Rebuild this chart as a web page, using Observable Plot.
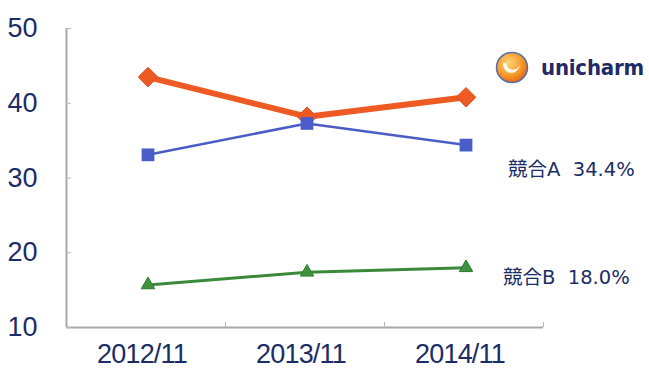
<!DOCTYPE html>
<html><head><meta charset="utf-8">
<script src="https://cdn.jsdelivr.net/npm/d3@7"></script>
<script src="https://cdn.jsdelivr.net/npm/@observablehq/plot@0.6"></script>
<style>
body{margin:0;background:#fff;}
#wrap{position:relative;width:649px;height:371px;overflow:hidden;}
#logo{position:absolute;left:495px;top:51px;display:flex;align-items:center;}
#logo span{font-family:"DejaVu Sans Condensed","DejaVu Sans",sans-serif;font-weight:bold;font-size:22px;color:#1f2b66;margin-left:12px;letter-spacing:-0.2px;}
g[aria-label="x-axis tick label"] text{letter-spacing:-0.8px;}
</style>
</head><body>
<div id="wrap"></div>
<script>
// Data
const periods = ["2012/11", "2013/11", "2014/11"];
const unicharm = [43.5, 38.2, 40.8];
const rivalA = [33.1, 37.3, 34.4];
const rivalB = [15.7, 17.4, 18.0];
const yTicks = [10, 20, 30, 40, 50];
const seriesNames = ["競合A", "競合B"];

const navy = "#1b2d66";
const W = 649, H = 371, mL = 66, mR = 106, mT = 28, mB = 44;
const bw = (W - mL - mR) / periods.length;

const toRows = arr => arr.map((v, i) => ({p: periods[i], v}));
const rowsU = toRows(unicharm), rowsA = toRows(rivalA), rowsB = toRows(rivalB);
const last = periods.length - 1;
const labelA = [{p: periods[last], v: rivalA[last], t: `${seriesNames[0]}  ${rivalA[last].toFixed(1)}%`}];
const labelB = [{p: periods[last], v: rivalB[last], t: `${seriesNames[1]}  ${rivalB[last].toFixed(1)}%`}];

const latin = "Liberation Sans, Arial, sans-serif";
const labelFont = "DejaVu Sans, Noto Sans CJK JP, sans-serif";

const chart = Plot.plot({
  width: W, height: H,
  marginLeft: mL, marginRight: mR, marginTop: mT, marginBottom: mB,
  style: {fontFamily: latin, background: "#fff", color: navy},
  x: {type: "band", domain: periods, padding: 0, axis: null},
  y: {domain: [10, 50], axis: null},
  marks: [
    // axis lines
    Plot.ruleX([periods[0]], {y1: 10, y2: 50, dx: -bw / 2, stroke: "#a8a8a8", strokeWidth: 2}),
    Plot.ruleY([10], {stroke: "#a8a8a8", strokeWidth: 2}),
    // y ticks (inside) and labels
    Plot.axisY({ticks: yTicks, tickSize: 5, dx: 5, text: null, label: null, stroke: "#b8b8b8"}),
    Plot.axisY({ticks: yTicks, tickSize: 0, tickPadding: 29, fontSize: 27, fill: navy, label: null, tickFormat: d => String(d)}),
    // x ticks (inside, at band boundaries) and labels
    Plot.axisX({tickSize: 5, dy: -5, dx: bw / 2, text: null, label: null, stroke: "#b8b8b8"}),
    Plot.axisX({tickSize: 0, tickPadding: 16, fontSize: 27, dx: -4, fill: navy, label: null}),
    // series
    Plot.line(rowsB, {x: "p", y: "v", dx: 2, stroke: "#3a8a3a", strokeWidth: 3}),
    Plot.dot(rowsB, {x: "p", y: "v", dx: 2, symbol: "triangle", r: 5, fill: "#3f933f", stroke: "#2f7a2f", strokeWidth: 1}),
    Plot.line(rowsU, {x: "p", y: "v", dx: 2, stroke: "#ee5a24", strokeWidth: 6}),
    Plot.dot(rowsU, {x: "p", y: "v", dx: 2, symbol: "diamond2", r: 8.8, fill: "#ee5a24", stroke: "#e24f1a", strokeWidth: 1}),
    Plot.line(rowsA, {x: "p", y: "v", dx: 2, stroke: "#4b5dc4", strokeWidth: 2.5}),
    Plot.dot(rowsA, {x: "p", y: "v", dx: 2, symbol: "square", r: 7.2, fill: "#4b5dc8"}),
    // series labels
    Plot.text(labelA, {x: "p", y: "v", text: "t", dx: 44, dy: 25, textAnchor: "start", fontSize: 19.5, fontFamily: labelFont, fill: navy}),
    Plot.text(labelB, {x: "p", y: "v", text: "t", dx: 39, dy: 10, textAnchor: "start", fontSize: 19.5, fontFamily: labelFont, fill: navy})
  ]
});
const wrap = document.getElementById("wrap");
wrap.appendChild(chart);

// logo
const logo = document.createElement("div");
logo.id = "logo";
logo.innerHTML = `<svg width="34" height="33" viewBox="0 0 34 33">
  <defs><radialGradient id="lg" cx="0.4" cy="0.35" r="0.7">
    <stop offset="0" stop-color="#ffd47a"/><stop offset="0.6" stop-color="#f59a2a"/><stop offset="1" stop-color="#e8600f"/>
  </radialGradient></defs>
  <ellipse cx="17" cy="16.5" rx="15.5" ry="15" fill="url(#lg)" stroke="#5a6fa8" stroke-width="1.5"/>
  <path d="M8 12 C8 24, 22 26, 25 14 C22 20, 13 21, 11 12 Z" fill="#fff" opacity="0.9"/>
</svg><span>unicharm</span>`;
wrap.appendChild(logo);
</script>
</body></html>
